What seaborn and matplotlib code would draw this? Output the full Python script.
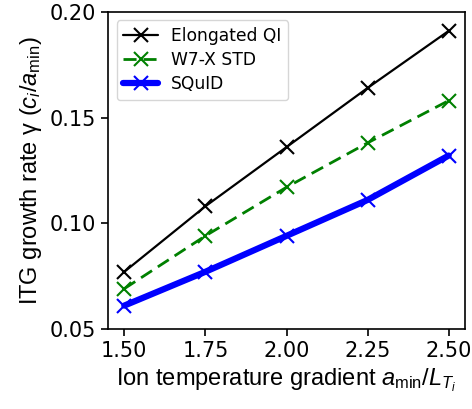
import matplotlib
matplotlib.use("Agg")
import matplotlib.pyplot as plt
import seaborn as sns
import pandas as pd

gradients = [1.50, 1.75, 2.00, 2.25, 2.50]
elongated_qi = [0.077, 0.108, 0.136, 0.164, 0.191]
w7x_std = [0.069, 0.094, 0.117, 0.138, 0.158]
squid = [0.061, 0.077, 0.094, 0.111, 0.132]

series = {
    "Elongated QI": (elongated_qi, "black", "-", 1.6),
    "W7-X STD": (w7x_std, "green", (0, (4.7, 2.5)), 2.0),
    "SQuID": (squid, "blue", "-", 4.5),
}

sns.set_style("ticks", rc={
    "axes.edgecolor": "black",
    "xtick.color": "black",
    "ytick.color": "black",
    "text.color": "black",
    "axes.labelcolor": "black",
})
plt.rcParams["font.family"] = ["DejaVu Sans"]
plt.rcParams["mathtext.fontset"] = "custom"
plt.rcParams["mathtext.rm"] = "Liberation Sans"
plt.rcParams["mathtext.it"] = "Liberation Sans:italic"

fig, ax = plt.subplots(figsize=(4.72, 4.09), dpi=100)

for name, (vals, color, ls, lw) in series.items():
    df = pd.DataFrame({"x": gradients, "y": vals})
    sns.lineplot(data=df, x="x", y="y", ax=ax, color=color, linestyle=ls,
                 linewidth=lw, marker="x", markersize=9.5, markeredgewidth=1.5,
                 markeredgecolor=color, label=name)

ax.set_ylim(0.05, 0.20)
ax.set_xticks(gradients)
ax.set_xticklabels([f"{g:.2f}" for g in gradients])
ax.set_yticks([0.05, 0.10, 0.15, 0.20])
ax.set_yticklabels(["0.05", "0.10", "0.15", "0.20"])
ax.tick_params(labelsize=15, length=5, width=1.2)
for s in ax.spines.values():
    s.set_linewidth(1.2)

ax.set_xlabel(r"Ion temperature gradient $a_{\mathrm{min}}/L_{T_i}$",
              fontsize=17, family=["Liberation Sans"], labelpad=4)
ax.set_ylabel(r"ITG growth rate γ $(c_i/a_{\mathrm{min}})$",
              fontsize=17, family=["Liberation Sans"], labelpad=4)

leg = ax.legend(loc="upper left", fontsize=12.3, frameon=True, fancybox=True,
                handlelength=2.0, labelspacing=0.35)

fig.subplots_adjust(left=0.229, right=0.985, top=0.971, bottom=0.196)
fig.savefig("out.png", dpi=100)
